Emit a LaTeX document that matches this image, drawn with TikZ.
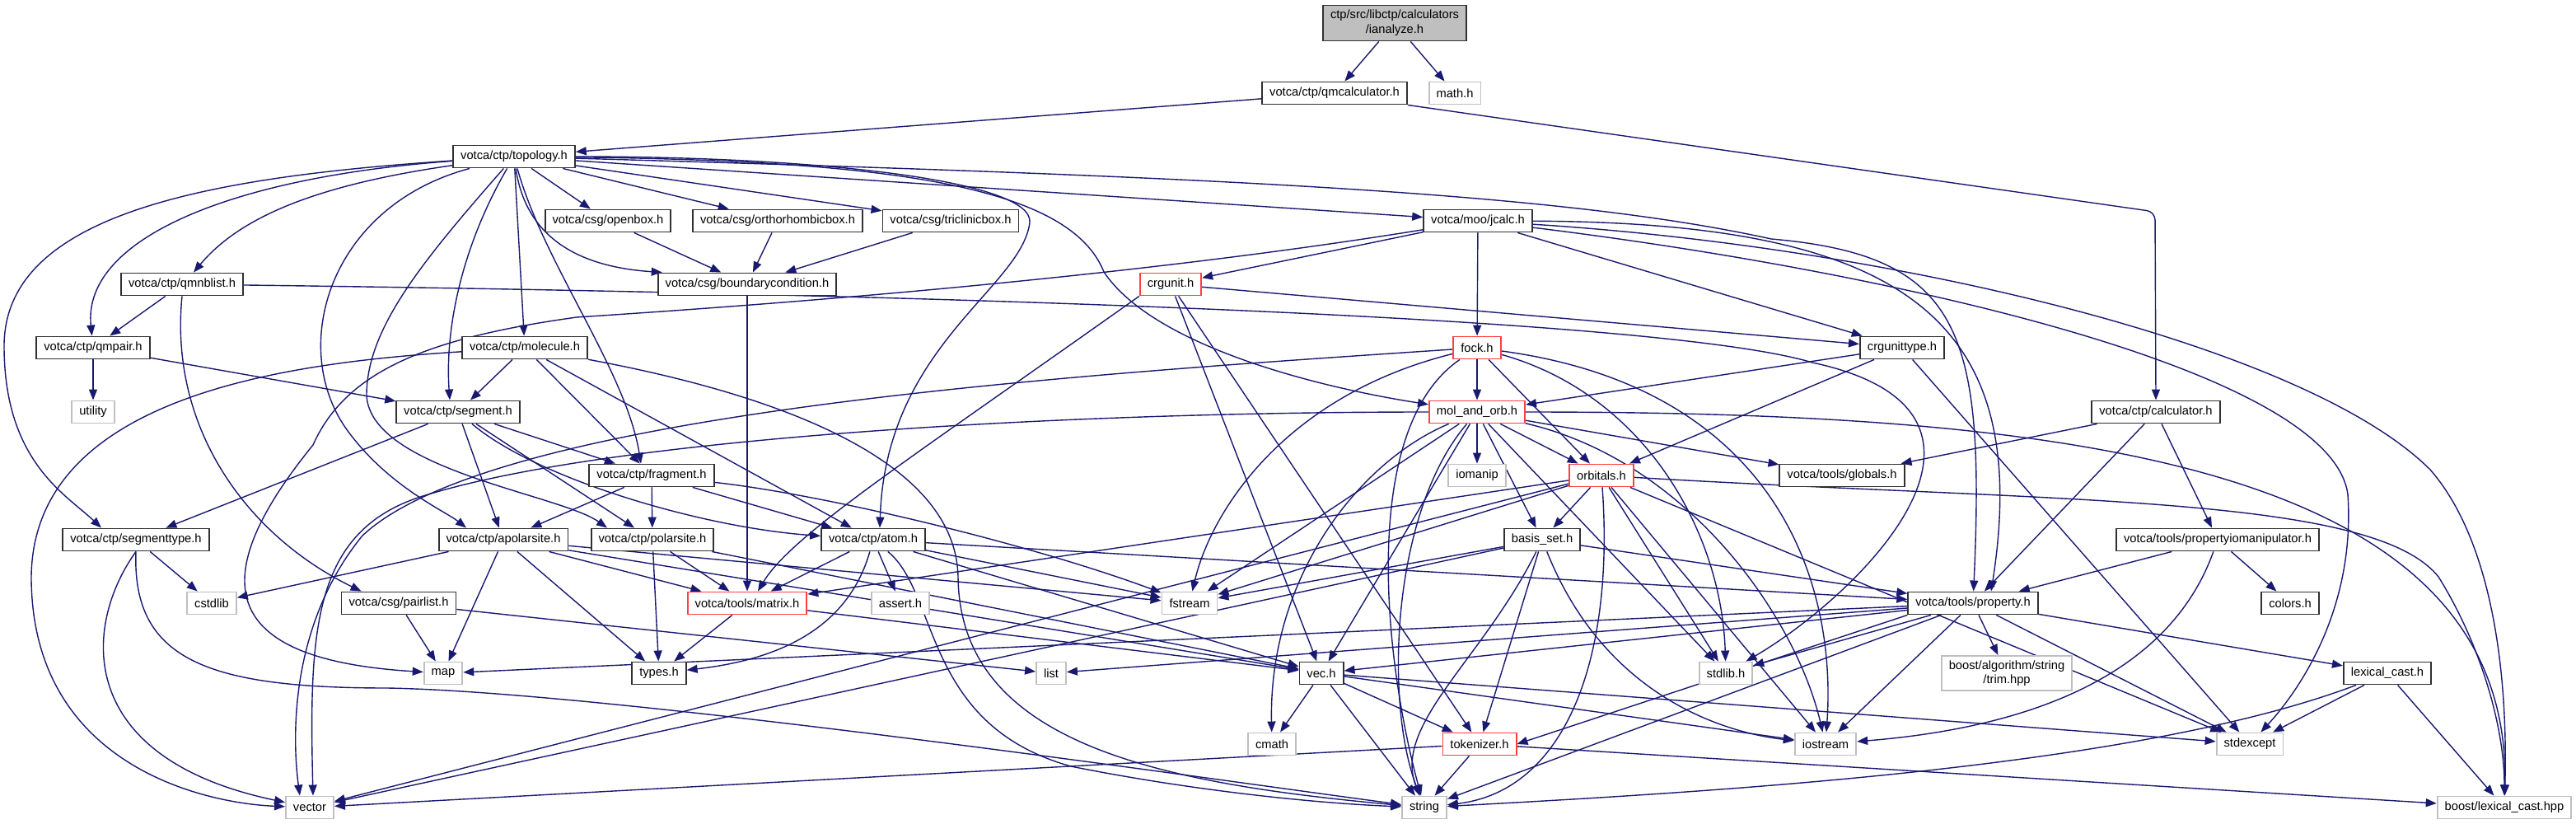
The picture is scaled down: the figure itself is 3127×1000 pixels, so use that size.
\documentclass[tikz,border=0pt]{standalone}
\usepackage{fontspec}
\setmainfont{Liberation Sans}
\usetikzlibrary{arrows.meta,positioning,calc,backgrounds}

\definecolor{edgeblue}{RGB}{25,25,112}
\definecolor{boxgray}{RGB}{191,191,191}
\definecolor{boxdark}{RGB}{48,48,48}
\definecolor{boxred}{RGB}{255,64,64}

\tikzset{
  hdrbox/.style={draw=boxdark, line width=1.9pt, fill=white, minimum height=27pt,
    inner xsep=9pt, inner ysep=0pt, font=\fontsize{14.7}{17.6}\selectfont},
  sysbox/.style={hdrbox, draw=boxgray},
  redbox/.style={hdrbox, draw=boxred},
  srcbox/.style={hdrbox, fill=boxgray, align=center, minimum height=43pt},
  dep/.style={draw=edgeblue, line width=1.4pt, -{Triangle[length=13pt,width=10pt]}}
}

\begin{document}
\begin{tikzpicture}[x=1pt, y=-1pt]
\useasboundingbox (0,0) rectangle (3127,1000);

% headers, row by row
\node[srcbox] (ianalyze) at (1693,28) {ctp/src/libctp/calculators\\/ianalyze.h};
\node[hdrbox] (qmcalc) at (1620,113) {votca/ctp/qmcalculator.h};
\node[sysbox] (mathh) at (1766,113) {math.h};
\node[hdrbox] (topology) at (624,190) {votca/ctp/topology.h};
\node[hdrbox] (openbox) at (738,268) {votca/csg/openbox.h};
\node[hdrbox] (orthobox) at (944,268) {votca/csg/orthorhombicbox.h};
\node[hdrbox] (triclbox) at (1154,268) {votca/csg/triclinicbox.h};
\node[hdrbox] (jcalc) at (1794,268) {votca/moo/jcalc.h};
\node[hdrbox] (qmnblist) at (221,345) {votca/ctp/qmnblist.h};
\node[hdrbox] (boundary) at (907,345) {votca/csg/boundarycondition.h};
\node[redbox] (crgunit) at (1421,345) {crgunit.h};
\node[hdrbox] (qmpair) at (113,422) {votca/ctp/qmpair.h};
\node[hdrbox] (molecule) at (637,422) {votca/ctp/molecule.h};
\node[redbox] (fock) at (1793,422) {fock.h};
\node[hdrbox] (crgtype) at (2309,422) {crgunittype.h};
\node[sysbox] (utility) at (113,500) {utility};
\node[hdrbox] (segment) at (556,500) {votca/ctp/segment.h};
\node[redbox] (molorb) at (1793,500) {mol\_and\_orb.h};
\node[hdrbox] (calculator) at (2617,500) {votca/ctp/calculator.h};
\node[hdrbox] (fragment) at (791,577) {votca/ctp/fragment.h};
\node[sysbox] (iomanip) at (1793,577) {iomanip};
\node[redbox] (orbitals) at (1944,577) {orbitals.h};
\node[hdrbox] (globals) at (2236,577) {votca/tools/globals.h};
\node[hdrbox] (segtype) at (165,655) {votca/ctp/segmenttype.h};
\node[hdrbox] (apolar) at (611,655) {votca/ctp/apolarsite.h};
\node[hdrbox] (polar) at (792,655) {votca/ctp/polarsite.h};
\node[hdrbox] (atom) at (1060,655) {votca/ctp/atom.h};
\node[hdrbox] (basisset) at (1872,655) {basis\_set.h};
\node[hdrbox] (propio) at (2692,655) {votca/tools/propertyiomanipulator.h};
\node[sysbox] (cstdlib) at (257,732) {cstdlib};
\node[hdrbox] (pairlist) at (484,732) {votca/csg/pairlist.h};
\node[redbox] (matrix) at (907,732) {votca/tools/matrix.h};
\node[sysbox] (asserth) at (1093,732) {assert.h};
\node[sysbox] (fstream) at (1444,732) {fstream};
\node[hdrbox] (property) at (2395,732) {votca/tools/property.h};
\node[hdrbox] (colors) at (2780,732) {colors.h};
\node[sysbox] (map) at (538,817) {map};
\node[hdrbox] (types) at (800,817) {types.h};
\node[sysbox] (list) at (1276,817) {list};
\node[hdrbox] (vec) at (1604,817) {vec.h};
\node[sysbox] (stdlib) at (2095,817) {stdlib.h};
\node[sysbox, align=center, minimum height=42pt] (trim) at (2436,817) {boost/algorithm/string\\/trim.hpp};
\node[hdrbox] (lexcast) at (2898,817) {lexical\_cast.h};
\node[sysbox] (cmath) at (1544,903) {cmath};
\node[redbox] (tokenizer) at (1796,903) {tokenizer.h};
\node[sysbox] (iostream) at (2216,903) {iostream};
\node[sysbox] (stdexcept) at (2731,903) {stdexcept};
\node[sysbox] (vector) at (376,980) {vector};
\node[sysbox] (string) at (1729,980) {string};
\node[sysbox] (boostlc) at (3040,980) {boost/lexical\_cast.hpp};

\begin{scope}[on background layer]
% top of the graph
\draw[dep] (ianalyze) -- (qmcalc);
\draw[dep] (ianalyze) -- (mathh);
\draw[dep] (qmcalc) -- (topology);
\draw[dep, rounded corners=10pt] (qmcalc.south east) -- (2616,257) -- (calculator.north);

% topology.h
\draw[dep] (topology) -- (openbox);
\draw[dep] (topology) -- (orthobox);
\draw[dep] (topology) -- (triclbox);
\draw[dep] (topology) .. controls (640,300) and (720,325) .. ($(boundary.north west)+(6,0)$);
\draw[dep] (topology) -- (jcalc);
\draw[dep] (topology) .. controls (380,225) and (290,265) .. ($(qmnblist.north)+(14,0)$);
\draw[dep] (topology) .. controls (280,215) and (100,290) .. (qmpair);
\draw[dep] (topology) .. controls (250,215) and (5,260) .. (5,420) .. controls (5,560) and (80,600) .. ($(segtype.north)+(-42,0)$);
\draw[dep] (topology) -- (molecule);
\draw[dep] (topology) .. controls (560,300) and (540,400) .. ($(segment.north)+(-10,0)$);
\draw[dep] (topology) .. controls (660,320) and (760,450) .. ($(fragment.north)+(-13,0)$);
\draw[dep] (topology) .. controls (400,250) and (350,420) .. (420,520) .. controls (470,590) and (540,620) .. ($(apolar.north)+(-45,0)$);
\draw[dep] (topology) .. controls (510,320) and (445,400) .. (445,480) .. controls (450,570) and (680,600) .. ($(polar.north)+(-55,0)$);
\draw[dep] (topology) .. controls (1000,190) and (1255,220) .. (1250,270) .. controls (1240,350) and (1075,420) .. ($(atom.north)+(8,0)$);
\draw[dep] (topology) .. controls (1100,195) and (1300,230) .. (1340,330) .. controls (1400,420) and (1600,470) .. (molorb);
\draw[dep] (topology) .. controls (1500,215) and (1900,235) .. (2150,290) .. controls (2380,310) and (2410,400) .. (property);

% boxes
\draw[dep] (openbox) -- (boundary);
\draw[dep] (orthobox) -- (boundary);
\draw[dep] (triclbox) -- (boundary);
\draw[dep] (boundary) -- (matrix);

% jcalc.h
\draw[dep] (jcalc) -- (crgunit);
\draw[dep] (jcalc) -- (fock);
\draw[dep] (jcalc) -- (crgtype);
\draw[dep] (jcalc) .. controls (1350,340) and (900,372) .. (700,385) .. controls (520,410) and (420,450) .. (380,540) .. controls (250,700) and (260,800) .. (map);
\draw[dep] (jcalc) .. controls (2300,300) and (2800,420) .. (2950,570) .. controls (3020,650) and (3045,800) .. (boostlc);
\draw[dep] (jcalc) .. controls (2300,330) and (2830,450) .. (2850,600) .. controls (2860,750) and (2780,850) .. (stdexcept);
\draw[dep] (jcalc) .. controls (2300,270) and (2470,380) .. ($(property.north)+(22,0)$);

% qmnblist.h, qmpair.h, molecule.h
\draw[dep] (qmnblist) -- (qmpair);
\draw[dep] (qmnblist.south) .. controls (205,520) and (300,650) .. ($(pairlist.north west)+(25,0)$);
\draw[dep] (qmnblist) .. controls (1000,355) and (2000,380) .. (2200,440) .. controls (2480,500) and (2260,720) .. (stdlib);
\draw[dep] (qmpair) -- (utility);
\draw[dep] (qmpair) -- (segment);
\draw[dep] (molecule) -- (segment);
\draw[dep] (molecule) -- (fragment);
\draw[dep] (molecule) -- (atom);
\draw[dep] (molecule) .. controls (350,440) and (40,480) .. (38,700) .. controls (38,930) and (250,975) .. (vector);
\draw[dep] (molecule) .. controls (950,480) and (1160,560) .. (1163,700) .. controls (1165,900) and (1400,950) .. (string);

% crgunit.h, fock.h, crgunittype.h
\draw[dep] (crgunit) -- (crgtype);
\draw[dep] (crgunit.south west) .. controls (1100,560) and (960,650) .. ($(matrix.north)+(13,0)$);
\draw[dep] (crgunit) -- (vec);
\draw[dep] (crgunit) -- (tokenizer);
\draw[dep] (fock) -- (molorb);
\draw[dep] (fock) -- (orbitals);
\draw[dep] (fock) .. controls (1300,455) and (600,500) .. (440,650) .. controls (350,760) and (355,900) .. ($(vector.north)+(-12,0)$);
\draw[dep] (fock) .. controls (1560,480) and (1470,620) .. (fstream);
\draw[dep] (fock) .. controls (2000,480) and (2090,650) .. (stdlib);
\draw[dep] (fock) .. controls (2150,470) and (2230,700) .. (iostream);
\draw[dep] (fock) .. controls (1650,520) and (1680,800) .. (string);
\draw[dep] (crgtype) -- (molorb);
\draw[dep] (crgtype) -- (orbitals);
\draw[dep] (crgtype) -- (stdexcept);

% segment.h, fragment.h
\draw[dep] (segment) -- (segtype);
\draw[dep] (segment) -- (fragment);
\draw[dep] (segment) -- (apolar);
\draw[dep] (segment) -- (polar);
\draw[dep] (segment) .. controls (650,580) and (850,640) .. (atom);
\draw[dep] (fragment) -- (apolar);
\draw[dep] (fragment) -- (polar);
\draw[dep] (fragment) -- (atom);
\draw[dep] (fragment) .. controls (1000,600) and (1250,660) .. (fstream);

% mol_and_orb.h
\draw[dep] (molorb) -- (iomanip);
\draw[dep] (molorb) -- (orbitals);
\draw[dep] (molorb) -- (basisset);
\draw[dep] (molorb) -- (globals);
\draw[dep] (molorb) -- (vec);
\draw[dep] (molorb) .. controls (1650,560) and (1540,700) .. (cmath);
\draw[dep] (molorb) -- (fstream);
\draw[dep] (molorb) -- (stdlib);
\draw[dep] (molorb) .. controls (2050,560) and (2180,750) .. (iostream);
\draw[dep] (molorb) .. controls (1690,620) and (1680,850) .. (string);
\draw[dep] (molorb) .. controls (1300,500) and (750,530) .. (520,600) .. controls (380,640) and (375,760) .. ($(vector.north)+(4,0)$);
\draw[dep] (molorb) .. controls (2500,500) and (3050,560) .. (boostlc);

% orbitals.h, basis_set.h
\draw[dep] (orbitals) -- (basisset);
\draw[dep] (orbitals) -- (matrix);
\draw[dep] (orbitals) -- (fstream);
\draw[dep] (orbitals) -- (stdlib);
\draw[dep] (orbitals) -- (iostream);
\draw[dep] (orbitals) -- (stdexcept);
\draw[dep] (orbitals) -- (vector);
\draw[dep] (orbitals) .. controls (1960,800) and (1900,960) .. (string);
\draw[dep] (orbitals) .. controls (2500,610) and (2880,600) .. (2960,700) .. controls (3010,780) and (3040,880) .. (boostlc);
\draw[dep] (basisset) -- (fstream);
\draw[dep] (basisset) -- (property);
\draw[dep] (basisset) -- (tokenizer);
\draw[dep] (basisset) -- (vector);
\draw[dep] (basisset) .. controls (1950,850) and (2100,890) .. (iostream);
\draw[dep] (basisset) .. controls (1800,800) and (1690,880) .. (string);

% calculator side
\draw[dep] (calculator) -- (globals);
\draw[dep] (calculator) -- (property);
\draw[dep] (calculator) -- (propio);
\draw[dep] (propio) -- (property);
\draw[dep] (propio) -- (colors);
\draw[dep] (propio) .. controls (2640,800) and (2500,880) .. (iostream);

% segmenttype.h, apolarsite.h, polarsite.h, atom.h
\draw[dep] (segtype) -- (cstdlib);
\draw[dep] (segtype.south) .. controls (100,760) and (90,920) .. (vector);
\draw[dep] (segtype.south) .. controls (160,800) and (250,835) .. (470,835) .. controls (750,840) and (1500,950) .. (string);
\draw[dep] (apolar) -- (cstdlib);
\draw[dep] (apolar) -- (map);
\draw[dep] (apolar) -- (types);
\draw[dep] (apolar) -- (matrix);
\draw[dep] (apolar) -- (fstream);
\draw[dep] (apolar) -- (vec);
\draw[dep] (polar) -- (types);
\draw[dep] (polar) -- (matrix);
\draw[dep] (polar) -- (vec);
\draw[dep] (atom) -- (matrix);
\draw[dep] (atom) -- (asserth);
\draw[dep] (atom) .. controls (1030,760) and (950,800) .. (types);
\draw[dep] (atom) -- (vec);
\draw[dep] (atom) -- (property);
\draw[dep] (atom) -- (fstream);
\draw[dep] (atom) .. controls (1140,720) and (1120,880) .. (1300,930) .. controls (1450,960) and (1600,975) .. (string);

% lower rows
\draw[dep] (pairlist) -- (map);
\draw[dep] (pairlist) -- (list);
\draw[dep] (matrix) -- (types);
\draw[dep] (matrix) -- (vec);
\draw[dep] (property) -- (map);
\draw[dep] (property) -- (list);
\draw[dep] (property) -- (vec);
\draw[dep] (property) -- (stdlib);
\draw[dep] (property) -- (trim);
\draw[dep] (property) -- (lexcast);
\draw[dep] (property) -- (stdexcept);
\draw[dep] (property) -- (iostream);
\draw[dep] (property.south west) -- (tokenizer.east);
\draw[dep] (property) -- (string);
\draw[dep] (lexcast) -- (stdexcept);
\draw[dep] (lexcast) -- (boostlc);
\draw[dep] (lexcast) .. controls (2600,930) and (2100,960) .. (string);
\draw[dep] (vec) -- (cmath);
\draw[dep] (vec) -- (tokenizer);
\draw[dep] (vec) -- (string);
\draw[dep] (vec) -- (iostream);
\draw[dep] (vec) -- (stdexcept);
\draw[dep] (tokenizer) -- (string);
\draw[dep] (tokenizer) -- (vector);
\draw[dep] (tokenizer) -- (boostlc);
\end{scope}
\end{tikzpicture}
\end{document}
